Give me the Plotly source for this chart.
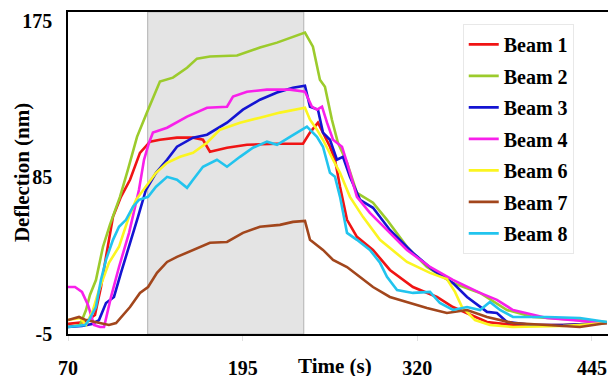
import plotly.graph_objects as go

# ---- data (time in s, deflection in nm) ----
beam1_t = [70, 82.2, 89.3, 93.6, 97.2, 102.2, 107.9, 114.4, 121.5, 128.7, 135.8, 148, 159.5, 166.6, 171.6, 183.8, 198.1, 219.6, 238.2, 243.2, 248.9, 252.5, 257.5, 261.1, 264.7, 269.7, 276.8, 288.3, 300.4, 316.9, 334.1, 345.5, 355.6, 369.9, 388.5, 424.3, 455.7]
beam1_y = [0.8, 1.9, 5.9, 22, 39.3, 62.3, 73.8, 83.6, 99.1, 105.5, 106.6, 107.8, 107.8, 106.6, 99.7, 102, 103.7, 104.3, 104.3, 110.7, 116.4, 110.7, 102.6, 95.1, 79.6, 60.6, 50.8, 43.3, 31.8, 22, 16.3, 10.5, 7.1, 1.9, 0.2, 0.2, 1.3]

beam2_t = [70, 78.6, 82.9, 85.7, 90, 95, 100, 107.2, 112.9, 119.4, 126.5, 135.8, 145.1, 155.2, 162.3, 171.6, 191, 207.4, 219.6, 231, 239.6, 245.3, 250.3, 253.9, 258.9, 263.2, 269.7, 276.8, 288.3, 298.3, 312.6, 326.9, 345.5, 364.9, 384.2, 402.8, 436.4, 455.7]
beam2_y = [-1, 0.2, 8.8, 17.4, 26, 45, 57.7, 73.8, 89.4, 108.3, 122.2, 140, 142.3, 148, 153.2, 154.4, 155, 159.6, 162.4, 165.9, 168.2, 160.1, 141.1, 137.1, 118.1, 104.9, 93.4, 76.1, 70.4, 60.6, 45.1, 33.5, 24.3, 18.6, 8.8, 4.8, 3, 1.9]

beam3_t = [70, 80, 87.2, 92.2, 97.2, 102.9, 107.9, 113.7, 120.1, 125.8, 133, 140.9, 148, 159.5, 169.5, 183.8, 195.2, 207.4, 219.6, 231, 239.6, 243.2, 248.9, 252.5, 257.5, 262.5, 266.8, 271.8, 279, 288.3, 300.4, 316.9, 331.2, 345.5, 355.6, 369.9, 377, 384.2, 402.8, 424.3, 455.7]
beam3_y = [-1, -0.4, 0.8, 3, 12.8, 16.3, 30.1, 45.1, 62.3, 77.9, 87.6, 95.1, 102.6, 107.8, 109.5, 116.4, 123.9, 129.6, 133.7, 136.5, 137.7, 125.6, 123.9, 110.7, 106.6, 95.1, 96.8, 85.3, 72.1, 67.5, 54.8, 41.6, 31.8, 24.3, 16.3, 7.7, 7.1, 1.9, 0.2, 0.2, 1.3]

beam4_t = [70, 75, 80, 84.3, 88.6, 92.9, 95.8, 100.8, 106.5, 113.7, 120.8, 124.4, 128, 130.8, 140.9, 155.2, 169.5, 183.8, 188.1, 198.1, 212.4, 228.9, 239.6, 244.6, 248.2, 251.8, 255.4, 259.7, 266.1, 269.7, 276.8, 286.1, 300.4, 312.6, 329.1, 345.5, 364.9, 377, 388.5, 412.8, 455.7]
beam4_y = [22, 22, 19.2, 11.7, 0.2, -1, -1, 16.3, 33.5, 53.1, 77.9, 95.1, 104.9, 110.7, 113.5, 119.9, 125, 125.6, 131.4, 134.2, 135.4, 135.4, 134.2, 125.6, 123.9, 125.6, 116.4, 106.6, 102.6, 93.4, 73.8, 64.6, 53.1, 43.3, 33.5, 26.1, 18.6, 14.6, 8.8, 4.2, 1.3]

beam6_t = [70, 78.6, 82.9, 87.9, 92.2, 99.3, 106.5, 112.9, 118.7, 125.8, 133, 140.9, 150.2, 159.5, 169.5, 178.8, 193.1, 207.4, 221.7, 239.6, 243.2, 248.2, 252.5, 259.7, 264.7, 271.8, 281.1, 293.3, 312.6, 329.1, 341.2, 347, 352, 361.3, 372, 388.5, 424.3, 455.7]
beam6_y = [3, 4.2, 0.2, 8.8, 20.3, 35.9, 45.1, 60.6, 72.1, 79.6, 87.6, 93.4, 96.8, 99.1, 104.9, 112.4, 116.4, 119.3, 122.2, 125, 118.1, 112.4, 106.6, 95.1, 87.6, 73.8, 62.3, 49.1, 36.4, 30.1, 26.6, 19.2, 10.5, 3, 0.2, -1, -0.4, 1.3]

beam7_t = [70, 77.9, 82.9, 92.2, 99.3, 104.4, 109.4, 114.4, 121.5, 127.3, 133.7, 140.9, 148, 159.5, 171.6, 183.8, 195.2, 207.4, 221.7, 231, 239.6, 243.2, 252.5, 259.7, 269.7, 279, 288.3, 300.4, 312.6, 326.9, 341.2, 355.6, 369.9, 388.5, 412.8, 436.4, 455.7]
beam7_y = [3, 4.8, 3, 1.3, 0.2, 1.3, 5.9, 10.5, 18.6, 22, 30.1, 36.4, 39.3, 43.3, 47.4, 47.9, 53.1, 56.6, 57.7, 59.4, 60, 49.1, 43.3, 37.6, 33.5, 27.8, 22, 16.3, 13.4, 10, 7.1, 8.8, 4.8, 1.3, 0.2, -1, 1.3]

beam8_t = [70, 82.2, 85, 90, 93.6, 97.2, 102.2, 106.5, 111.5, 116.5, 120.8, 127.3, 133, 140.9, 148, 155.2, 159.5, 166.6, 176.6, 183.8, 193.1, 202.4, 212.4, 219.6, 228.9, 241, 248.2, 252.5, 257.5, 261.1, 264.7, 269.7, 276.8, 286.1, 293.3, 298.3, 305.5, 316.9, 329.1, 336.2, 345.5, 355.6, 364.9, 372, 379.2, 388.5, 412.8, 436.4, 455.7]
beam8_y = [-1, 0.2, 3, 10.5, 26.1, 37.6, 49.1, 56.6, 60.6, 68.1, 72.1, 73.8, 79.6, 85.3, 83.6, 79, 83.6, 91.1, 95.1, 91.1, 96.8, 102, 105.5, 103.7, 108.3, 114.1, 108.3, 102.6, 87.6, 85.3, 73.8, 53.1, 49.1, 43.3, 35.9, 27.8, 20.3, 18.6, 19.2, 12.8, 8.8, 10.5, 8.8, 13.4, 8.8, 4.8, 4.8, 4.2, 1.9]

series_names = ["Beam 1", "Beam 2", "Beam 3", "Beam 4", "Beam 6", "Beam 7", "Beam 8"]
series_t = [beam1_t, beam2_t, beam3_t, beam4_t, beam6_t, beam7_t, beam8_t]
series_y = [beam1_y, beam2_y, beam3_y, beam4_y, beam6_y, beam7_y, beam8_y]
series_colors = ["#f01414", "#9ccb2c", "#1414d2", "#f820ea", "#fbf520", "#a2461c", "#22c4ee"]

x_ticks = [70, 195, 320, 445]
y_ticks = [-5, 85, 175]
injection_start = 127
injection_end = 238.7

FONT = "Liberation Serif, Times New Roman, serif"

fig = go.Figure()
for name, t, y, c in zip(series_names, series_t, series_y, series_colors):
    fig.add_trace(go.Scatter(x=t, y=y, mode="lines", name=name, legendgroup=name,
                             line=dict(color=c, width=2.6)))

fig.add_shape(type="rect", xref="x", yref="paper", x0=injection_start, x1=injection_end,
              y0=0, y1=1, fillcolor="#e4e4e4", line=dict(color="#bcbcbc", width=1.2), layer="below")

fig.update_layout(
    width=608, height=376,
    margin=dict(l=68, r=0, t=12, b=42, autoexpand=False),
    paper_bgcolor="white", plot_bgcolor="white",
    font=dict(family=FONT, size=20, color="black", weight="bold"),
    showlegend=True,
    legend=dict(x=0.731, y=0.963, xanchor="left", yanchor="top",
                bgcolor="white", bordercolor="#e8e8e8", borderwidth=1,
                font=dict(family=FONT, size=20, color="black", weight="bold"),
                itemwidth=30, tracegroupgap=2.5),
    annotations=[
        dict(text="Time (s)", xref="paper", yref="paper", x=0.495, y=-0.1,
             xanchor="center", yanchor="middle", showarrow=False,
             font=dict(family=FONT, size=21, color="black", weight="bold")),
        dict(text="Deflection (nm)", xref="paper", yref="paper", x=-0.085, y=0.5,
             xanchor="center", yanchor="middle", textangle=-90, showarrow=False,
             font=dict(family=FONT, size=21, color="black", weight="bold")),
    ],
)
fig.update_xaxes(range=[70, 456.5], tickvals=x_ticks, ticktext=[str(v) for v in x_ticks],
                 automargin=False,
                 showgrid=False, zeroline=False, showline=True, linecolor="black", linewidth=1.6,
                 mirror=True, ticks="outside", ticklen=5, tickcolor="#e0e0e0",
                 ticklabelstandoff=10)
fig.update_yaxes(range=[-5, 180], tickvals=y_ticks, ticktext=[str(v) for v in y_ticks],
                 automargin=False,
                 showgrid=False, zeroline=False, showline=True, linecolor="black", linewidth=1.6,
                 ticks="", ticklabelstandoff=10)

fig.write_html("out.html", config={"displayModeBar": False},
               post_script="document.body.style.margin='0';document.body.style.overflow='hidden';")
